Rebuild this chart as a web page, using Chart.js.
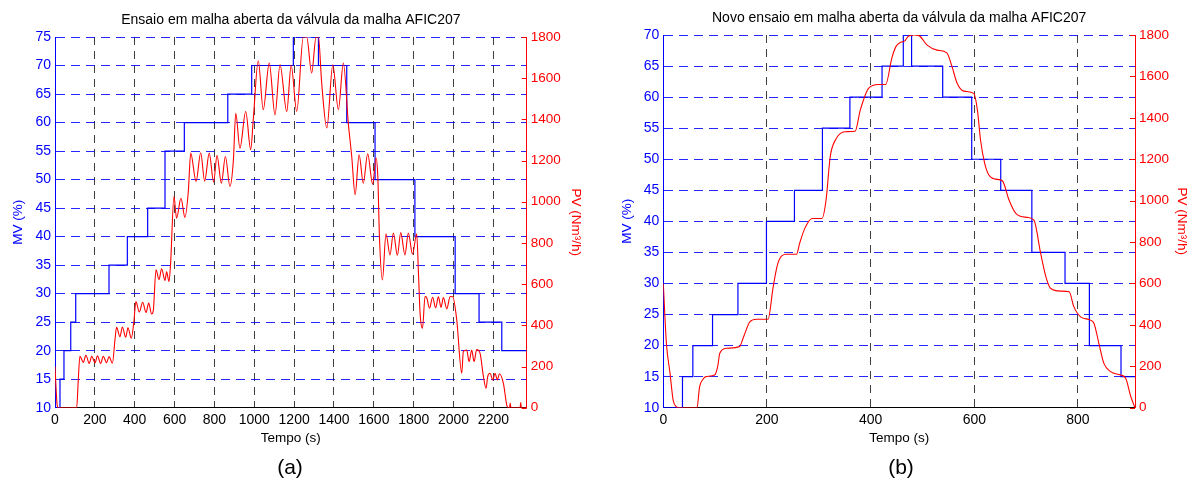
<!DOCTYPE html>
<html>
<head>
<meta charset="utf-8">
<script src="https://cdn.jsdelivr.net/npm/chart.js@4.4.0/dist/chart.umd.min.js"></script>
<style>
  body { margin: 0; background: #fff; width: 1192px; height: 486px; position: relative; overflow: hidden;
         font-family: Arial, "Liberation Sans", sans-serif; }
  canvas { position: absolute; top: 0; }
  #cA { left: 0; }
  #cB { left: 600px; }
  .tag { position: absolute; top: 455px; width: 60px; font-size: 21px; text-align: center; color: #000; }
</style>
</head>
<body>
<canvas id="cA" width="600" height="460"></canvas>
<canvas id="cB" width="592" height="460"></canvas>
<div class="tag" style="left:260px">(a)</div>
<div class="tag" style="left:871px">(b)</div>
<script>
// ---------------- data ----------------
const titleA = 'Ensaio em malha aberta da válvula da malha AFIC207';
const titleB = 'Novo ensaio em malha aberta da válvula da malha AFIC207';
const xTitle = 'Tempo (s)';
const mvTitle = 'MV (%)';
const pvTitle = 'PV (Nm³/h)';

const xTicksA = [0, 200, 400, 600, 800, 1000, 1200, 1400, 1600, 1800, 2000, 2200];
const xTicksB = [0, 200, 400, 600, 800];

// (a) MV: time (s) where each new level starts, level (%)
const mvTimeA = [0, 25, 45, 79, 104, 271, 363, 465, 552, 649, 867, 987, 1196, 1322, 1464, 1606, 1806, 2008, 2128, 2242, 2367];
const mvA     = [10, 15, 20, 25, 30, 35, 40, 45, 55, 60, 65, 70, 75, 70, 60, 50, 40, 30, 25, 20, 20];

// (a) PV (Nm3/h)
const pvTimeA = [0, 5, 10, 15, 109, 116, 125, 142, 155, 172, 184, 201, 213, 229, 242, 259, 271, 288,
  301, 309, 326, 338, 355, 366, 383, 396, 406, 423, 440, 457, 470, 485, 493, 507, 522, 535, 552, 560, 572,
  580, 597, 610, 632, 652, 669, 681, 708, 731, 751, 774, 796, 813, 835, 855, 878, 895, 907, 928, 957, 982,
  995, 1020, 1045, 1075, 1104, 1129, 1163, 1185, 1213, 1246, 1263, 1288, 1310, 1322, 1338, 1364, 1394, 1422,
  1447, 1472, 1489, 1506, 1526, 1547, 1569, 1594, 1611, 1620, 1628, 1643, 1661, 1681, 1698, 1718, 1735, 1756,
  1773, 1794, 1815, 1824, 1832, 1844, 1857, 1865, 1879, 1895, 1910, 1924, 1937, 1949, 1966, 1983, 1996, 2016,
  2041, 2049, 2066, 2078, 2091, 2103, 2116, 2133, 2150, 2163, 2171, 2183, 2197, 2208, 2220, 2230, 2250, 2267,
  2275, 2281, 2284, 2288, 2334, 2337, 2340, 2367];
const pvA = [200, 100, 20, 0, 0, 120, 250, 220, 255, 215, 250, 218, 252, 215, 250, 218, 248, 216,
  330, 390, 345, 392, 342, 388, 337, 420, 515, 465, 512, 462, 508, 455, 470, 670, 622, 675, 618, 660, 612,
  700, 1025, 920, 1017, 924, 1050, 1236, 1098, 1238, 1100, 1236, 1095, 1225, 1090, 1220, 1074, 1200, 1430, 1260, 1438, 1253,
  1400, 1685, 1447, 1673, 1422, 1665, 1438, 1663, 1439, 1800, 1800, 1625, 1800, 1800, 1580, 1358, 1665, 1447,
  1674, 1380, 1220, 1034, 1228, 1090, 1233, 1085, 1212, 1120, 831, 620, 845, 742, 848, 740, 850, 742,
  848, 745, 845, 650, 458, 386, 540, 535, 483, 536, 485, 538, 487, 535, 480, 540, 539, 426,
  167, 272, 280, 224, 280, 224, 282, 264, 150, 94, 150, 167, 135, 167, 135, 165, 118, 13,
  0, 0, 22, 0, 0, 25, 0, 0];

// (b) MV
const mvTimeB = [0, 37, 57, 95, 144, 199, 253, 307, 360, 422, 463, 479, 539, 595, 651, 711, 775, 822, 883, 910];
const mvB     = [10, 15, 20, 25, 30, 40, 45, 55, 60, 65, 70, 65, 60, 50, 45, 35, 30, 20, 15, 15];

// (b) PV
const pvTimeB = [0, 6, 13, 19, 25, 30, 65, 70, 76, 82, 99, 105, 109, 122, 147, 155, 167, 180, 202, 212, 221,
  237, 257, 263, 273, 287, 306, 314, 322, 332, 351, 370, 380, 396, 415, 429, 441, 449, 458, 466, 472, 482,
  493, 509, 528, 547, 557, 567, 580, 599, 606, 612, 620, 628, 641, 654, 667, 680, 702, 715, 728, 738, 747,
  767, 783, 792, 805, 824, 831, 841, 850, 863, 882, 892, 902, 910];
const pvB = [600, 311, 166, 37, 5, 0, 0, 101, 135, 150, 158, 200, 263, 287, 295, 343, 415, 427, 427, 584, 697,
  741, 741, 794, 866, 914, 914, 1003, 1212, 1293, 1333, 1335, 1437, 1542, 1561, 1561, 1690, 1745, 1765, 1772, 1792, 1800,
  1797, 1751, 1727, 1714, 1647, 1566, 1529, 1518, 1437, 1293, 1180, 1124, 1104, 1096, 1003, 939, 919, 906, 745, 633, 577,
  563, 560, 488, 439, 423, 407, 303, 214, 174, 158, 142, 53, 0];

// ---------------------------------------------------------------
const blue = '#0000ff';
const red = '#ff0000';
const clear = 'rgba(0,0,0,0)';
const fam = 'Arial, "Liberation Sans", sans-serif';

function pts(xs, ys) {
    return xs.map((x, i) => ({ x: x, y: ys[i] }));
}

function plain(v) {
    return String(v);
}

// MATLAB draws the PV ticks on the inside of the right axis
const inwardTicks = {
    id: 'inwardTicks',
    afterDraw(chart) {
        const s = chart.scales.y1, a = chart.chartArea, ctx = chart.ctx;
        ctx.save();
        ctx.strokeStyle = red;
        ctx.lineWidth = 1;
        s.ticks.forEach(t => {
            const y = Math.round(s.getPixelForValue(t.value)) + 0.5;
            ctx.beginPath();
            ctx.moveTo(a.right - 5, y);
            ctx.lineTo(a.right, y);
            ctx.stroke();
        });
        ctx.restore();
    }
};

function makeChart(id, c) {
    const font = { family: fam, size: 14 };
    return new Chart(document.getElementById(id), {
        type: 'line',
        data: {
            datasets: [
                { data: pts(c.pvT, c.pv), yAxisID: 'y1', borderColor: red, borderWidth: 1.1,
                  pointRadius: 0, cubicInterpolationMode: 'monotone', order: 0 },
                { data: pts(c.mvT, c.mv), yAxisID: 'y', borderColor: blue, borderWidth: 1.2,
                  pointRadius: 0, stepped: 'before', order: 1 }
            ]
        },
        options: {
            responsive: false,
            animation: false,
            devicePixelRatio: 1,
            layout: { padding: 0 },
            plugins: {
                legend: { display: false },
                tooltip: { enabled: false },
                title: {
                    display: true, text: c.title, color: '#000', fullSize: false,
                    font: { family: fam, size: 14, weight: 'normal' },
                    padding: { top: c.tTop, bottom: c.tBot }
                }
            },
            scales: {
                x: {
                    type: 'linear', min: 0, max: c.xMax,
                    afterFit: s => { s.height = 52.3; },
                    afterBuildTicks: s => { s.ticks = c.xTicks.map(v => ({ value: v })); },
                    ticks: { autoSkip: false, maxRotation: 0, callback: plain,
                             color: '#000', font: font, padding: 4 },
                    grid: { drawTicks: false, lineWidth: 1,
                            color: ctx => (ctx.tick && ctx.tick.value === 0) ? clear : 'rgba(0,0,0,0.75)' },
                    border: { color: '#000', dash: [8, 6] },
                    title: { display: true, text: xTitle, color: '#000', font: { family: fam, size: 13.5 },
                             padding: { top: 13.6, bottom: 13.6 } }
                },
                y: {
                    position: 'left', min: 10, max: c.mvMax,
                    afterFit: s => { s.width = c.leftW; },
                    ticks: { stepSize: 5, color: blue, font: font, padding: 4, callback: plain },
                    grid: { drawTicks: false, lineWidth: 1,
                            color: ctx => (ctx.tick && ctx.tick.value === 10) ? clear : 'rgba(0,0,255,0.85)' },
                    border: { color: blue, dash: [9, 6] },
                    title: { display: true, text: mvTitle, color: blue, font: { family: fam, size: 13.5 },
                             padding: { top: c.lPad, bottom: c.lPad } }
                },
                y1: {
                    position: 'right', min: 0, max: 1800,
                    afterFit: s => { s.width = c.rightW; },
                    ticks: { stepSize: 200, color: red, font: { family: fam, size: 13.5 }, padding: 4, callback: plain },
                    grid: { drawOnChartArea: false, drawTicks: false },
                    border: { color: red },
                    title: { display: true, text: pvTitle, color: red, font: { family: fam, size: 13.5 },
                             padding: { top: c.rPad, bottom: c.rPad } }
                }
            }
        },
        plugins: [inwardTicks]
    });
}

makeChart('cA', {
    title: titleA, tTop: 12, tBot: 8.2,
    mvT: mvTimeA, mv: mvA, pvT: pvTimeA, pv: pvA,
    xMax: 2367, xTicks: xTicksA, mvMax: 75, leftW: 55, rightW: 73.3, lPad: 10.6, rPad: 16.6
});

makeChart('cB', {
    title: titleB, tTop: 10, tBot: 8.2,
    mvT: mvTimeB, mv: mvB, pvT: pvTimeB, pv: pvB,
    xMax: 910, xTicks: xTicksB, mvMax: 70, leftW: 63.3, rightW: 57, lPad: 19.1, rPad: 1.9
});
</script>
</body>
</html>
